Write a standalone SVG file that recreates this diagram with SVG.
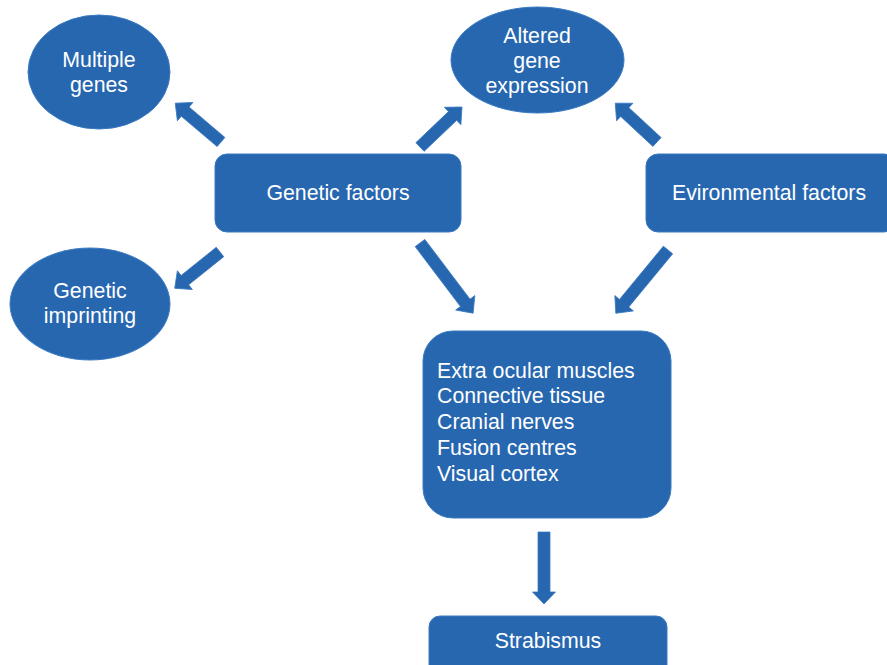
<svg xmlns="http://www.w3.org/2000/svg" width="887" height="665" viewBox="0 0 887 665">
<style>
.n{fill:#2767B0;stroke:#3B7AC2;stroke-width:1}
.t{fill:#fff;font-family:"Liberation Sans",Arial,sans-serif;font-size:21.3px;text-anchor:middle}
.l{fill:#fff;font-family:"Liberation Sans",Arial,sans-serif;font-size:21.3px}
.a{fill:#2767B0;stroke:#3B7AC2;stroke-width:0.8}
</style>
<rect width="887" height="665" fill="#fff"/>
<g id="multiple-genes">
<ellipse class="n" cx="99" cy="72" rx="71" ry="57"/>
<text class="t" x="99" y="67">Multiple</text>
<text class="t" x="99" y="92">genes</text>
</g>
<g id="altered-gene-expression">
<ellipse class="n" cx="537.5" cy="60" rx="86.5" ry="53"/>
<text class="t" x="537" y="43">Altered</text>
<text class="t" x="537" y="68">gene</text>
<text class="t" x="537" y="93">expression</text>
</g>
<g id="genetic-imprinting">
<ellipse class="n" cx="90" cy="304" rx="80" ry="56"/>
<text class="t" x="90" y="298">Genetic</text>
<text class="t" x="90" y="323">imprinting</text>
</g>
<g id="genetic-factors">
<rect class="n" x="215" y="154" width="246" height="78" rx="12"/>
<text class="t" x="338" y="200">Genetic factors</text>
</g>
<g id="environmental-factors">
<rect class="n" x="646" y="154" width="250" height="78" rx="12"/>
<text class="t" x="769" y="200">Evironmental factors</text>
</g>
<g id="tissues">
<rect class="n" x="423" y="331" width="248" height="187" rx="30"/>
<text class="l" x="437" y="378">Extra ocular muscles</text>
<text class="l" x="437" y="403">Connective tissue</text>
<text class="l" x="437" y="429">Cranial nerves</text>
<text class="l" x="437" y="455">Fusion centres</text>
<text class="l" x="437" y="481">Visual cortex</text>
</g>
<g id="strabismus">
<rect class="n" x="429" y="616" width="238" height="60" rx="11"/>
<text class="t" x="548" y="648">Strabismus</text>
</g>
<g id="connectors">
<polygon class="a" transform="translate(221,142) rotate(220.3)" points="0,-6 47,-6 47,-12 60,0 47,12 47,6 0,6"/>
<polygon class="a" transform="translate(420,147) rotate(-43.6)" points="0,-6 45,-6 45,-12 58,0 45,12 45,6 0,6"/>
<polygon class="a" transform="translate(220,252) rotate(141.3)" points="0,-6 45,-6 45,-12 58,0 45,12 45,6 0,6"/>
<polygon class="a" transform="translate(420,243) rotate(52.9)" points="0,-6 75,-6 75,-12 88,0 75,12 75,6 0,6"/>
<polygon class="a" transform="translate(657,142) rotate(222.9)" points="0,-6 44,-6 44,-12 57,0 44,12 44,6 0,6"/>
<polygon class="a" transform="translate(668,250) rotate(129.5)" points="0,-6 69,-6 69,-12 82,0 69,12 69,6 0,6"/>
<polygon class="a" transform="translate(544,532) rotate(90)" points="0,-6 60,-6 60,-11.5 72,0 60,11.5 60,6 0,6"/>
</g>
</svg>
